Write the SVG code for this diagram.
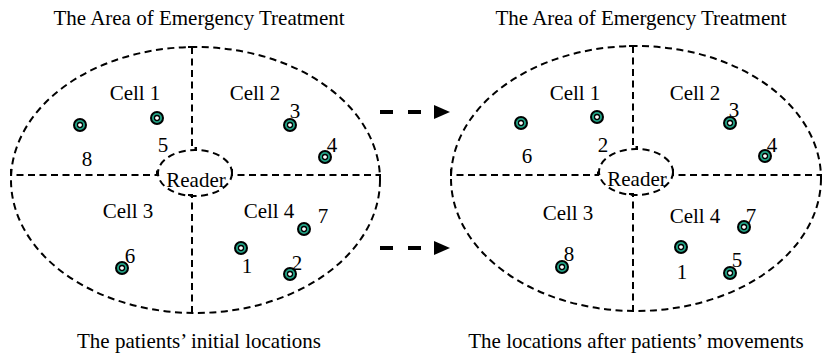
<svg xmlns="http://www.w3.org/2000/svg" width="823" height="355" viewBox="0 0 823 355">
<defs>
<style>
.t{font-family:"Liberation Serif","Times New Roman",serif;font-size:21px;fill:#000;text-anchor:middle}
.d{fill:none;stroke:#000;stroke-width:2;stroke-dasharray:7 4.5}
.a{fill:none;stroke:#000;stroke-width:4;stroke-dasharray:13 15}
</style>
<g id="pt">
<circle r="6" fill="#22a386" stroke="#000" stroke-width="2"/>
<circle r="2.5" fill="#fff" stroke="#000" stroke-width="1.3"/>
</g>
<marker id="ah" markerWidth="16" markerHeight="14" refX="0" refY="7" orient="auto" markerUnits="userSpaceOnUse">
<path d="M0,0 L16,7 L0,14 Z" fill="#000"/>
</marker>
</defs>
<rect width="823" height="355" fill="#fff"/>

<g id="left">
<text class="t" x="199" y="25">The Area of Emergency Treatment</text>
<ellipse id="areaL" class="d" cx="195.5" cy="180" rx="184.5" ry="133"/>
<path class="d" d="M188,47 H196 M192,47 V148 H197"/>
<path class="d" d="M188,195 H192 V313 H188"/>
<path class="d" d="M11,169 V175 H157 V169"/>
<path class="d" d="M232,169 V175 H380 V180"/>
<g id="readerL"><ellipse class="d" cx="195" cy="173" rx="37" ry="23"/><text class="t" x="196" y="187">Reader</text></g>
<g id="cellL1"><text class="t" x="135" y="100">Cell 1</text>
<use href="#pt" x="80" y="125"/><use href="#pt" x="157" y="118"/>
<text class="t" x="87" y="166">8</text><text class="t" x="163" y="152">5</text></g>
<g id="cellL2"><text class="t" x="255" y="100">Cell 2</text>
<use href="#pt" x="290" y="125"/><use href="#pt" x="325" y="157"/>
<text class="t" x="295" y="118">3</text><text class="t" x="332" y="152">4</text></g>
<g id="cellL3"><text class="t" x="128" y="218">Cell 3</text>
<use href="#pt" x="122" y="268"/>
<text class="t" x="130" y="263">6</text></g>
<g id="cellL4"><text class="t" x="269" y="218">Cell 4</text>
<use href="#pt" x="304" y="229"/><use href="#pt" x="241" y="248"/><use href="#pt" x="290" y="274"/>
<text class="t" x="323" y="223">7</text><text class="t" x="247" y="273">1</text><text class="t" x="297" y="270">2</text></g>
<text class="t" x="199" y="348">The patients’ initial locations</text>
</g>

<g id="right">
<text class="t" x="641" y="25">The Area of Emergency Treatment</text>
<ellipse id="areaR" class="d" cx="636" cy="178.5" rx="185" ry="132.5"/>
<path class="d" d="M629,46 H637 M633,46 V147 H638"/>
<path class="d" d="M629,194 H633 V311 H629"/>
<path class="d" d="M451,169 V175 H598 V169"/>
<path class="d" d="M673,169 V175 H821 V180"/>
<g id="readerR"><ellipse class="d" cx="636" cy="172" rx="37" ry="23"/><text class="t" x="637" y="186">Reader</text></g>
<g id="cellR1"><text class="t" x="575" y="100">Cell 1</text>
<use href="#pt" x="521" y="123"/><use href="#pt" x="597" y="117"/>
<text class="t" x="527" y="163">6</text><text class="t" x="603" y="152">2</text></g>
<g id="cellR2"><text class="t" x="695" y="100">Cell 2</text>
<use href="#pt" x="730" y="123"/><use href="#pt" x="765" y="156"/>
<text class="t" x="734" y="117">3</text><text class="t" x="772" y="152">4</text></g>
<g id="cellR3"><text class="t" x="568" y="220">Cell 3</text>
<use href="#pt" x="562" y="267"/>
<text class="t" x="569" y="261">8</text></g>
<g id="cellR4"><text class="t" x="695" y="223">Cell 4</text>
<use href="#pt" x="744" y="227"/><use href="#pt" x="681" y="247"/><use href="#pt" x="730" y="273"/>
<text class="t" x="751" y="223">7</text><text class="t" x="682" y="279">1</text><text class="t" x="737" y="267">5</text></g>
<text class="t" x="636" y="348">The locations after patients’ movements</text>
</g>

<g id="connectors">
<line class="a" x1="380" y1="112" x2="434" y2="112" marker-end="url(#ah)"/>
<line class="a" x1="380" y1="248" x2="434" y2="248" marker-end="url(#ah)"/>
</g>
</svg>
